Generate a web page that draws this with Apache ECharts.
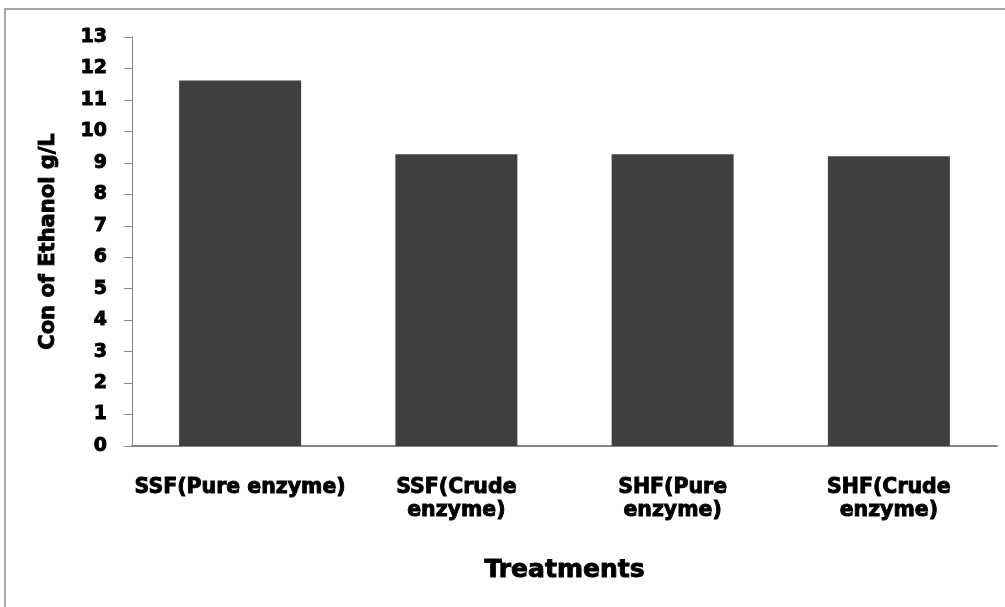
<!DOCTYPE html>
<html>
<head>
<meta charset="utf-8">
<script src="https://cdn.jsdelivr.net/npm/echarts@6/dist/echarts.min.js"></script>
<style>
  html, body { margin: 0; padding: 0; background: #fff; }
  #main { width: 1005px; height: 607px; }
</style>
</head>
<body>
<div id="main"></div>
<script>
// data
const categories = ['SSF(Pure enzyme)', 'SSF(Crude\nenzyme)', 'SHF(Pure\nenzyme)', 'SHF(Crude\nenzyme)'];
const ethanol = [11.62, 9.27, 9.27, 9.21];

const chart = echarts.init(document.getElementById('main'));
const font = 'DejaVu Sans';
// the original uses a very heavy face, so thicken the bold text a little
const heavy = { fontFamily: font, fontWeight: 'bold', color: '#000', textBorderColor: '#000', textBorderWidth: 0.9 };

chart.setOption({
  animation: false,
  backgroundColor: '#fff',
  graphic: [{
    type: 'rect',
    shape: { x: 5, y: 9, width: 1010, height: 610 },
    style: { fill: 'none', stroke: '#8a8a8a', lineWidth: 1.5 },
    silent: true
  }],
  grid: { left: 132, right: 8, top: 37, bottom: 161 },
  xAxis: {
    type: 'category',
    data: categories,
    name: 'Treatments',
    nameLocation: 'middle',
    nameGap: 112,
    nameTextStyle: Object.assign({}, heavy, { fontSize: 25 }),
    axisLine: { lineStyle: { color: '#868686', width: 2 } },
    axisTick: { show: false },
    axisLabel: Object.assign({}, heavy, {
      margin: 30, fontSize: 20.5, lineHeight: 23, interval: 0
    })
  },
  yAxis: {
    type: 'value',
    min: 0, max: 13, interval: 1,
    name: 'Con of Ethanol g/L',
    nameLocation: 'middle',
    nameGap: 73,
    nameTextStyle: Object.assign({}, heavy, { fontSize: 21 }),
    axisLine: { show: true, lineStyle: { color: '#868686', width: 1 } },
    axisTick: { show: true, length: 8, lineStyle: { color: '#868686' } },
    splitLine: { show: false },
    axisLabel: Object.assign({}, heavy, { margin: 25, fontSize: 19 })
  },
  series: [{
    type: 'bar',
    data: ethanol,
    barWidth: 122,
    itemStyle: { color: '#404040' }
  }]
});
</script>
</body>
</html>
